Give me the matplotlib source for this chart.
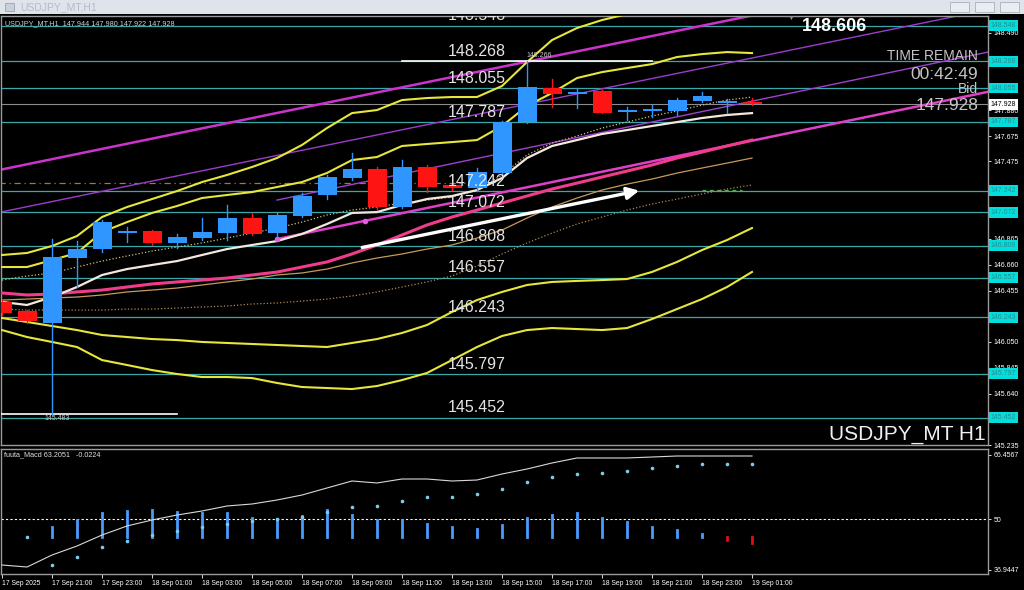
import numpy as np
import matplotlib.pyplot as plt
from matplotlib.patches import Rectangle
import matplotlib.transforms as mtransforms

plt.rcParams['font.family'] = ['Liberation Sans', 'DejaVu Sans']

# ---- data (USDJPY H1, 17 Sep 19:00 -> 19 Sep 01:00) ----
opens = [146.367, 146.293, 146.201, 146.710, 146.781, 146.907, 146.928, 146.833, 146.870, 146.912,
         147.026, 146.907, 147.046, 147.210, 147.342, 147.415, 147.112, 147.433, 147.289, 147.263,
         147.386, 147.789, 148.057, 148.007, 148.031, 147.865, 147.873, 147.876, 147.952, 147.934, 147.944]
highs = [146.380, 146.300, 146.862, 146.849, 147.012, 146.954, 146.935, 146.902, 147.026, 147.131,
         147.065, 147.065, 147.223, 147.368, 147.539, 147.433, 147.486, 147.447, 147.300, 147.420,
         147.795, 148.266, 148.124, 148.057, 148.039, 147.907, 147.920, 147.973, 148.020, 147.970, 147.980]
lows = [146.260, 146.200, 145.483, 146.485, 146.762, 146.841, 146.815, 146.789, 146.854, 146.854,
        146.894, 146.876, 147.038, 147.176, 147.328, 147.091, 147.104, 147.236, 147.250, 147.250,
        147.368, 147.780, 147.907, 147.894, 147.855, 147.802, 147.828, 147.841, 147.947, 147.855, 147.922]
closes = [146.275, 146.217, 146.722, 146.781, 146.996, 146.928, 146.833, 146.875, 146.915, 147.026,
          146.902, 147.052, 147.204, 147.350, 147.413, 147.112, 147.433, 147.275, 147.263, 147.394,
          147.789, 148.060, 148.007, 148.025, 147.860, 147.881, 147.889, 147.960, 147.994, 147.955, 147.928]

band_up2 = [146.736, 146.752, 146.807, 146.886, 147.036, 147.115, 147.178, 147.241, 147.312, 147.368,
            147.431, 147.502, 147.605, 147.739, 147.857, 147.881, 147.960, 147.976, 147.984, 147.984,
            148.071, 148.260, 148.434, 148.529, 148.592, 148.639, 148.680, 148.710, 148.730, 148.740, 148.750]
band_up1 = [146.641, 146.641, 146.696, 146.752, 146.917, 146.996, 147.068, 147.123, 147.186, 147.210,
            147.233, 147.273, 147.312, 147.384, 147.486, 147.510, 147.597, 147.613, 147.628, 147.644,
            147.755, 147.913, 148.016, 148.134, 148.181, 148.213, 148.244, 148.300, 148.323, 148.339, 148.331]
band_lo1 = [146.238, 146.207, 146.175, 146.143, 146.104, 146.088, 146.072, 146.064, 146.049, 146.041,
            146.033, 146.025, 146.017, 146.009, 146.041, 146.072, 146.120, 146.183, 146.286, 146.380,
            146.444, 146.499, 146.523, 146.531, 146.538, 146.546, 146.602, 146.681, 146.775, 146.854, 146.949]
band_lo2 = [146.143, 146.088, 146.049, 146.009, 145.906, 145.867, 145.827, 145.796, 145.772, 145.772,
            145.764, 145.725, 145.693, 145.685, 145.677, 145.701, 145.748, 145.804, 145.906, 146.009,
            146.096, 146.143, 146.159, 146.151, 146.143, 146.159, 146.230, 146.309, 146.388, 146.483, 146.602]
ma_white = [146.365, 146.341, 146.404, 146.483, 146.578, 146.625, 146.657, 146.688, 146.736, 146.783,
            146.815, 146.846, 146.902, 146.981, 147.068, 147.075, 147.131, 147.178, 147.202, 147.249,
            147.344, 147.502, 147.597, 147.644, 147.692, 147.723, 147.755, 147.786, 147.818, 147.842, 147.857]
ma_pink = [146.436, 146.420, 146.428, 146.444, 146.459, 146.483, 146.507, 146.523, 146.538, 146.554,
           146.578, 146.601, 146.641, 146.681, 146.744, 146.815, 146.894, 146.973, 147.036, 147.091,
           147.147, 147.202, 147.257, 147.304, 147.352, 147.399, 147.447, 147.502, 147.549, 147.597, 147.644]
ma_tan = [146.380, 146.388, 146.396, 146.404, 146.420, 146.444, 146.459, 146.475, 146.499, 146.523,
          146.546, 146.578, 146.594, 146.625, 146.673, 146.712, 146.744, 146.783, 146.815, 146.870,
          146.933, 147.028, 147.115, 147.186, 147.249, 147.296, 147.336, 147.383, 147.423, 147.462, 147.502]
ma_dot_fast = [146.538, 146.570, 146.594, 146.641, 146.688, 146.728, 146.767, 146.799, 146.831, 146.870,
               146.909, 146.949, 146.996, 147.052, 147.091, 147.115, 147.147, 147.170, 147.194, 147.249,
               147.368, 147.526, 147.620, 147.676, 147.739, 147.786, 147.834, 147.873, 147.920, 147.960, 147.984]
ma_dot_slow = [146.309, 146.301, 146.301, 146.301, 146.301, 146.309, 146.309, 146.317, 146.325, 146.333,
               146.349, 146.357, 146.372, 146.388, 146.412, 146.444, 146.483, 146.523, 146.570, 146.649,
               146.744, 146.831, 146.909, 146.981, 147.036, 147.091, 147.139, 147.178, 147.218, 147.257, 147.289]

levels = [148.548, 148.268, 148.055, 147.787, 147.242, 147.072, 146.808, 146.557, 146.243, 145.797, 145.452]
axis_ticks = [148.490, 147.880, 147.675, 147.475, 146.865, 146.660, 146.455, 146.050, 145.845, 145.640, 145.235]
bid = 147.928
day_high = 148.606
dash_level = 147.302

# trendlines: (bar index, price) anchor pairs
trend_thick = [(0, 147.412), (30, 148.628)]
trend_thin = [(0, 147.077), (30, 148.292)]
trend_mid = [(11, 147.170), (30, 147.951)]
trend_pink = [(11, 146.862), (30, 147.639)]
arrow_from = (14.3, 146.791)
arrow_to = (25.6, 147.249)

# oscillator panel
macd_line = [38.22, 37.71, 40.78, 43.09, 45.90, 48.21, 49.74, 51.02, 52.05, 53.33,
             53.84, 54.86, 56.14, 57.94, 59.73, 59.22, 60.24, 60.24, 59.73, 59.98,
             61.52, 62.80, 64.34, 65.62, 65.62, 65.62, 65.87, 66.13, 66.13, 66.13, 66.13]
macd_dots = [np.nan, 45.39, 38.22, 40.27, 42.83, 44.37, 45.90, 46.93, 47.95, 48.72,
             49.49, 50.00, 50.51, 51.79, 53.07, 53.33, 54.61, 55.63, 55.63, 56.40,
             57.68, 59.47, 60.75, 61.52, 61.78, 62.29, 63.06, 63.57, 64.08, 64.08, 64.08]
macd_hist = [np.nan, np.nan, 47.95, 49.74, 51.54, 52.05, 52.30, 51.79, 51.54, 51.54,
             50.26, 50.00, 50.77, 52.30, 51.02, 49.74, 49.74, 48.72, 47.95, 47.44,
             48.46, 50.26, 51.02, 51.54, 50.26, 49.23, 47.95, 47.18, 46.16, 44.62, 43.86]
macd_base = 45.4
macd_ticks = [66.4567, 50, 36.9447]

time_labels = ['17 Sep 2025', '17 Sep 21:00', '17 Sep 23:00', '18 Sep 01:00', '18 Sep 03:00',
               '18 Sep 05:00', '18 Sep 07:00', '18 Sep 09:00', '18 Sep 11:00', '18 Sep 13:00',
               '18 Sep 15:00', '18 Sep 17:00', '18 Sep 19:00', '18 Sep 21:00', '18 Sep 23:00',
               '19 Sep 01:00']

# ---- figure ----
W, H = 1024, 590
fig = plt.figure(figsize=(W / 100, H / 100), dpi=100, facecolor='black')

def box(l, t, r, b):
    return [l / W, 1 - b / H, (r - l) / W, (b - t) / H]

# window title bar
fig.patches.append(Rectangle((0, 1 - 14 / H), 1, 14 / H, transform=fig.transFigure,
                             facecolor='#dfe4ea', edgecolor='none'))
fig.text(20 / W, 1 - 7 / H, 'USDJPY_MT,H1', color='#b4bcc6', fontsize=7.5, va='center')
fig.patches.append(Rectangle((5 / W, 1 - 11 / H), 9 / W, 8 / H, transform=fig.transFigure,
                             facecolor='#c8d0da', edgecolor='#98a4b0', lw=0.6))
for bx in [950, 975, 1000]:
    fig.patches.append(Rectangle((bx / W, 1 - 12 / H), 19 / W, 10 / H, transform=fig.transFigure,
                                 facecolor='#e9edf1', edgecolor='#a8b2bc', lw=0.6))

ax = fig.add_axes(box(1, 16, 988, 445))
axm = fig.add_axes(box(1, 449, 988, 574), sharex=ax)

x = np.arange(len(opens))
o = np.array(opens); c = np.array(closes)
up = c >= o
blue = '#2f96ff'
red = '#ff1414'

for a in (ax, axm):
    a.set_facecolor('black')
    for s in a.spines.values():
        s.set_color('#9a9a9a')
        s.set_linewidth(1.0)

# horizontal levels
for lv in levels:
    ax.axhline(lv, color='#3aa8a8', lw=0.9, zorder=1)
ax.axhline(bid, color='#8c8c8c', lw=0.8, zorder=1)
ax.plot([-1, 18.5], [dash_level, dash_level], color='#9a7a40', lw=0.9, ls=(0, (5, 3, 1, 3)), zorder=1)
ax.plot([28.0, 29.6], [147.25, 147.25], color='#4caf50', lw=0.9, ls=(0, (3, 3)), zorder=1)

# bands / moving averages
for ys in (band_up2, band_up1, band_lo1, band_lo2):
    ax.plot(x, ys, color='#e6e63c', lw=1.5, zorder=3)
ax.plot(x, ma_dot_slow, color='#b08850', lw=0.9, ls=':', zorder=3)
ax.plot(x, ma_dot_fast, color='#d0c080', lw=0.9, ls=':', zorder=3)
ax.plot(x, ma_tan, color='#c89a58', lw=0.9, zorder=3)
ax.plot(x, ma_pink, color='#f03c8c', lw=2.2, zorder=3)
ax.plot(x, ma_white, color='#f4e8de', lw=1.6, zorder=3)

# trendlines
ax.axline(trend_thick[0], trend_thick[1], color='#cc33cc', lw=1.8, zorder=2)
ax.axline(trend_thin[0], trend_thin[1], color='#9c3ccc', lw=1.0, zorder=2)
tx = [trend_mid[0][0], 40]
slope = (trend_mid[1][1] - trend_mid[0][1]) / (trend_mid[1][0] - trend_mid[0][0])
ax.plot(tx, [trend_mid[0][1], trend_mid[0][1] + slope * (40 - trend_mid[0][0])], color='#a040d0', lw=1.0, zorder=2)
slope = (trend_pink[1][1] - trend_pink[0][1]) / (trend_pink[1][0] - trend_pink[0][0])
ax.plot(tx, [trend_pink[0][1], trend_pink[0][1] + slope * (40 - trend_pink[0][0])], color='#e040c8', lw=1.8, zorder=2)
ax.plot([trend_pink[0][0], 14.5], [trend_pink[0][1], trend_pink[0][1] + slope * 3.5],
        'o', color='#e060e0', ms=3, zorder=4)

# candles
for i in range(len(x)):
    col = blue if up[i] else red
    ax.plot([x[i], x[i]], [lows[i], highs[i]], color=col, lw=1.0, zorder=5)
    h = max(abs(c[i] - o[i]), 0.012)
    ax.bar(x[i], h, bottom=min(o[i], c[i]), width=0.76, color=col, edgecolor='none', zorder=6)

# high / low markers
ax.plot([16, 26], [highs[21], highs[21]], color='white', lw=1.2, zorder=4)
ax.text(21.5, highs[21] + 0.015, '%.3f' % highs[21], color='#c8c8c8', fontsize=5, ha='center', va='bottom')
ax.plot([-1, 7], [lows[2], lows[2]], color='white', lw=1.2, zorder=4)
ax.text(2.2, lows[2] - 0.01, '%.3f' % lows[2], color='#c8c8c8', fontsize=5, ha='center', va='top')

# arrow
ax.annotate('', xy=arrow_to, xytext=arrow_from,
            arrowprops=dict(arrowstyle='-|>', color='white', lw=2.4, mutation_scale=18), zorder=7)

# level captions
for lv in levels:
    ax.text(17.84, lv + 0.018, '%.3f' % lv, color='#e4e4e4', fontsize=11.5, ha='left', va='bottom',
            zorder=8, clip_on=True)

ax.set_xlim(-0.04, 39.44)
ax.set_ylim(145.235, 148.624)

# right price axis
ax.yaxis.tick_right()
ax.set_yticks(axis_ticks)
ax.set_yticklabels(['%.3f' % t for t in axis_ticks])
ax.tick_params(axis='y', colors='white', labelsize=5, length=2, width=0.6, pad=2)
ax.tick_params(axis='x', bottom=False, labelbottom=False)
blend = mtransforms.blended_transform_factory(ax.transAxes, ax.transData)
for lv in levels:
    ax.text(1.003, lv, '%.3f' % lv, transform=blend, fontsize=5, color='#2c8c8c', ha='left', va='center',
            bbox=dict(boxstyle='square,pad=0.28', fc='#00dede', ec='none'), zorder=9, clip_on=False)
ax.text(1.003, bid, '%.3f' % bid, transform=blend, fontsize=5, color='black', ha='left', va='center',
        bbox=dict(boxstyle='square,pad=0.28', fc='white', ec='none'), zorder=9, clip_on=False)

# overlay texts
ax.text(0.004, 0.982, 'USDJPY_MT,H1  147.944 147.980 147.922 147.928', transform=ax.transAxes,
        color='#d0d0d0', fontsize=5.2, va='center', ha='left')
ax.text(31.55, day_high, '\u25BC', color='#909090', fontsize=5, ha='center', va='center')
ax.text(32.0, 148.545, '%.3f' % day_high, color='white', fontsize=13, fontweight='bold', ha='left', va='center')
narrow = ['Liberation Sans Narrow', 'Liberation Sans']
ax.text(0.990, (445 - 56.5) / 429, 'TIME REMAIN', transform=ax.transAxes, color='#c4c4c4',
        fontsize=10, family=narrow, ha='right', va='center')
ax.text(0.990, (445 - 74.5) / 429, '00:42:49', transform=ax.transAxes, color='#c4c4c4',
        fontsize=12.5, family=narrow, ha='right', va='center')
ax.text(0.990, (445 - 89) / 429, 'Bid', transform=ax.transAxes, color='#c4c4c4',
        fontsize=10, family=narrow, ha='right', va='center')
ax.text(0.990, (445 - 105) / 429, '147.928', transform=ax.transAxes, color='#c4c4c4',
        fontsize=12.5, family=narrow, ha='right', va='center')
ax.text(0.998, (445 - 434) / 429, 'USDJPY_MT H1', transform=ax.transAxes, color='#f0f0f0',
        fontsize=15, ha='right', va='center')

# ---- oscillator ----
hist = np.array(macd_hist)
for i in range(len(x)):
    if np.isnan(hist[i]):
        continue
    col = '#4a9cff' if hist[i] >= macd_base else '#e01010'
    axm.plot([x[i], x[i]], [macd_base, hist[i]], color=col, lw=2.0, zorder=3)
axm.axhline(50, color='white', lw=0.8, ls=(0, (2, 2)), zorder=2)
axm.plot(x, macd_line, color='#d8d8d8', lw=0.8, zorder=4)
axm.plot(x, macd_dots, 'o', color='#7ec8e8', ms=1.6, zorder=5)
axm.set_ylim(35.92, 67.92)
axm.yaxis.tick_right()
axm.set_yticks(macd_ticks)
axm.set_yticklabels(['66.4567', '50', '36.9447'])
axm.tick_params(axis='y', colors='white', labelsize=5, length=2, width=0.6, pad=2)
axm.text(0.003, 0.955, 'fuuta_Macd 63.2051   -0.0224', transform=axm.transAxes, color='#e0e0e0',
         fontsize=5.2, va='center', ha='left')

axm.set_xticks(np.arange(0, 31, 2))
axm.set_xticklabels(time_labels)
axm.tick_params(axis='x', colors='white', labelsize=4.9, length=3, width=0.6, pad=1.5)
for lbl in axm.get_xticklabels():
    lbl.set_ha('left')

fig.savefig('out.png', dpi=100, facecolor='black')
